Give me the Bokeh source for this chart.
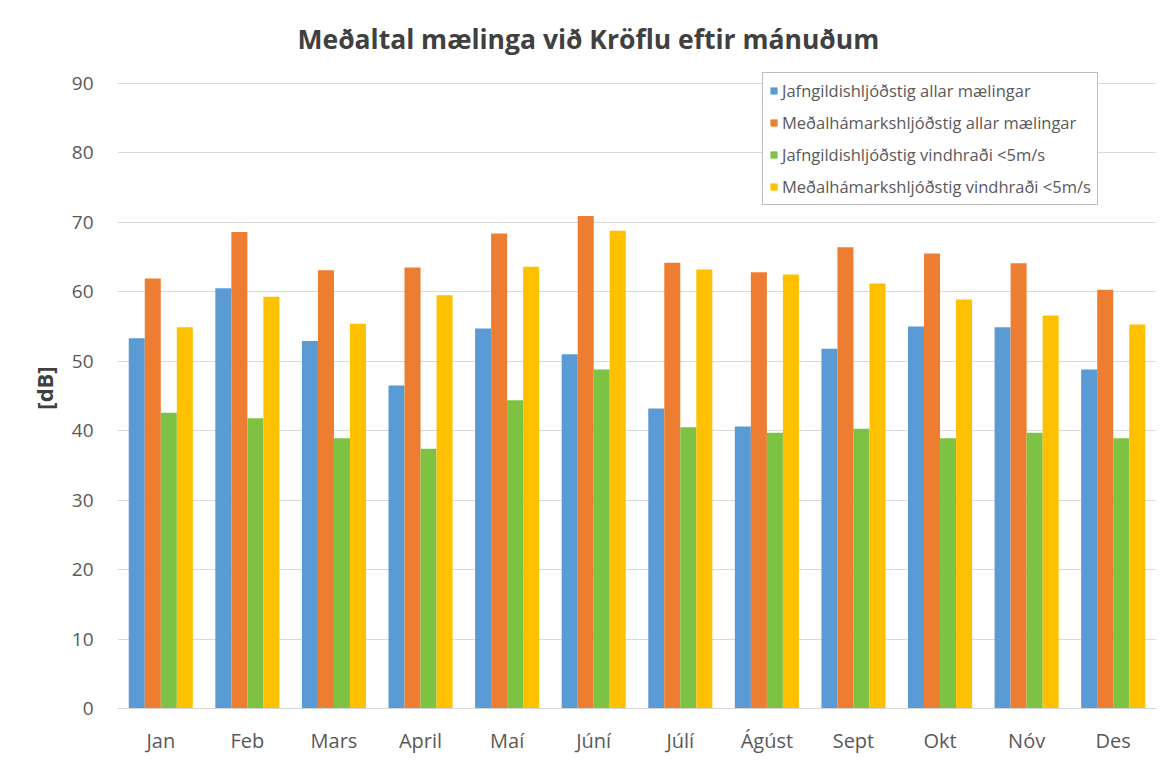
from bokeh.plotting import figure
from bokeh.models import FactorRange, Range1d, Legend, LegendItem, ColumnDataSource, FixedTicker
from bokeh.transform import dodge
from bokeh.embed import file_html
from bokeh.resources import INLINE

months = ["Jan", "Feb", "Mars", "April", "Maí", "Júní", "Júlí", "Ágúst", "Sept", "Okt", "Nóv", "Des"]
jafn_allar = [53.3, 60.5, 52.9, 46.5, 54.7, 51.0, 43.2, 40.6, 51.8, 55.0, 54.9, 48.8]
medal_allar = [61.9, 68.6, 63.1, 63.5, 68.4, 70.9, 64.2, 62.8, 66.4, 65.5, 64.1, 60.3]
jafn_vind = [42.6, 41.8, 38.9, 37.4, 44.4, 48.8, 40.5, 39.7, 40.3, 38.9, 39.7, 38.9]
medal_vind = [54.9, 59.3, 55.4, 59.5, 63.6, 68.8, 63.2, 62.5, 61.2, 58.9, 56.6, 55.3]
series_names = ["Jafngildishljóðstig allar mælingar",
                "Meðalhámarkshljóðstig allar mælingar",
                "Jafngildishljóðstig vindhraði <5m/s",
                "Meðalhámarkshljóðstig vindhraði <5m/s"]
colors = ["#5B9BD5", "#ED7D31", "#7DC242", "#FFC000"]
y_ticks = list(range(0, 91, 10))

src = ColumnDataSource(dict(m=months, a=jafn_allar, b=medal_allar, c=jafn_vind, d=medal_vind))

FONT = "Open Sans"
p = figure(x_range=FactorRange(*months), y_range=Range1d(0, 92.3),
           frame_width=1039, frame_height=641, output_backend="svg", toolbar_location=None,
           min_border_left=117, min_border_right=7, min_border_top=67, min_border_bottom=47,
           title="Meðaltal mælinga við Kröflu eftir mánuðum")
p.title.text_font = FONT
p.title.text_font_size = "26.5px"
p.title.text_font_style = "bold"
p.title.text_color = "#404040"
p.title.align = "left"
p.title.offset = 180
p.title.standoff = 22

offsets = [-0.2775, -0.0925, 0.0925, 0.2775]
keys = ["a", "b", "c", "d"]
renderers = []
for k, off, col in zip(keys, offsets, colors):
    r = p.vbar(x=dodge("m", off, range=p.x_range), top=k, width=0.185, source=src,
               fill_color=col, line_color=None)
    renderers.append(r)

p.outline_line_color = None
p.xgrid.grid_line_color = None
p.ygrid.grid_line_color = "#D9D9D9"
p.yaxis.ticker = FixedTicker(ticks=y_ticks)
p.yaxis.axis_line_color = None
p.yaxis.major_tick_line_color = None
p.yaxis.minor_tick_line_color = None
p.yaxis.major_tick_out = 0
p.yaxis.major_tick_in = 0
p.yaxis.major_label_text_font = FONT
p.yaxis.major_label_text_font_size = "19px"
p.yaxis.major_label_text_color = "#595959"
p.yaxis.major_label_standoff = 24
p.yaxis.axis_label = "[dB]"
p.yaxis.axis_label_text_font = FONT
p.yaxis.axis_label_text_font_size = "22px"
p.yaxis.axis_label_text_font_style = "bold"
p.yaxis.axis_label_text_color = "#404040"
p.yaxis.axis_label_standoff = 10

p.xaxis.axis_line_color = "#D9D9D9"
p.xaxis.major_tick_line_color = None
p.xaxis.minor_tick_line_color = None
p.xaxis.major_tick_out = 0
p.xaxis.major_tick_in = 0
p.xaxis.major_label_text_font = FONT
p.xaxis.major_label_text_font_size = "20px"
p.xaxis.major_label_text_color = "#595959"
p.xaxis.major_label_standoff = 18

legend = Legend(items=[LegendItem(label=n, renderers=[r]) for n, r in zip(series_names, renderers)],
                location=(645, 503))
legend.label_text_font = FONT
legend.label_text_font_size = "16.5px"
legend.label_text_color = "#595959"
legend.glyph_width = 9
legend.glyph_height = 9
legend.label_height = 21
legend.spacing = 9
legend.padding = 6
legend.margin = 0
legend.label_standoff = 4
legend.border_line_color = "#7F7F7F"
legend.border_line_width = 1
legend.background_fill_alpha = 1
p.add_layout(legend, "center")

open("out.html", "w").write(file_html(p, INLINE))
